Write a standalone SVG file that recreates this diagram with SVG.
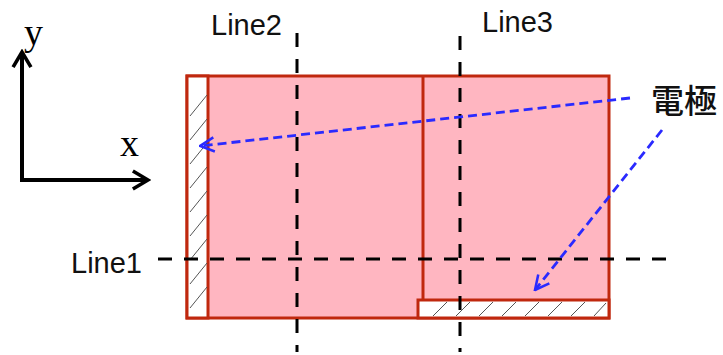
<svg xmlns="http://www.w3.org/2000/svg" width="723" height="355" viewBox="0 0 723 355">
<style>
.lbl{font-family:"Liberation Sans",Arial,sans-serif;font-size:29px;fill:#111}
.ax{font-family:"Liberation Serif","Times New Roman",serif;font-size:38px;fill:#000}
.jp{font-family:"Noto Sans CJK JP",sans-serif;font-size:33px;font-weight:500;fill:#111}
.dash{stroke:#000;stroke-width:3;stroke-dasharray:14,12;fill:none}
.red{stroke:#c0280e;stroke-width:3}
.blue{stroke:#2a2aff;stroke-width:2.8;stroke-dasharray:9,5;fill:none}
.hatch{stroke:#555;stroke-width:1}
</style>
<defs>
<marker id="ah" viewBox="0 0 12 12" refX="11" refY="6" markerWidth="17" markerHeight="17" markerUnits="userSpaceOnUse" orient="auto">
<path d="M1,1 L11,6 L1,11" fill="none" stroke="#2a2aff" stroke-width="1.8"/>
</marker>
<marker id="bk" viewBox="0 0 16 16" refX="14" refY="8" markerWidth="22" markerHeight="22" markerUnits="userSpaceOnUse" orient="auto">
<path d="M3,1.5 L14,8 L3,14.5" fill="none" stroke="#000" stroke-width="2.6"/>
</marker>
</defs>
<g id="axes">
<line x1="22" y1="180" x2="22" y2="52" stroke="#000" stroke-width="4" marker-end="url(#bk)"/>
<line x1="20" y1="180" x2="148" y2="180" stroke="#000" stroke-width="4" marker-end="url(#bk)"/>
<text class="ax" x="24" y="45">y</text>
<text class="ax" x="120" y="156">x</text>
</g>
<g id="body">
<rect x="187" y="76" width="422" height="242" fill="#ffb6c1" class="red"/>
<line x1="423" y1="76" x2="423" y2="300" class="red" stroke-width="2"/>
</g>
<g id="electrode-left">
<rect x="187" y="76" width="21" height="242" fill="#fff" class="red"/>
<g class="hatch">
<line x1="190" y1="116" x2="207" y2="95"/>
<line x1="190" y1="140" x2="207" y2="119"/>
<line x1="190" y1="164" x2="207" y2="143"/>
<line x1="190" y1="188" x2="207" y2="167"/>
<line x1="190" y1="212" x2="207" y2="191"/>
<line x1="190" y1="236" x2="207" y2="215"/>
<line x1="190" y1="260" x2="207" y2="239"/>
<line x1="190" y1="284" x2="207" y2="263"/>
<line x1="190" y1="308" x2="207" y2="287"/>
</g>
</g>
<g id="electrode-bottom">
<rect x="418" y="300" width="191" height="18" fill="#fff" class="red"/>
<g class="hatch">
<line x1="433" y1="316" x2="447" y2="302"/>
<line x1="456" y1="316" x2="470" y2="302"/>
<line x1="479" y1="316" x2="493" y2="302"/>
<line x1="502" y1="316" x2="516" y2="302"/>
<line x1="525" y1="316" x2="539" y2="302"/>
<line x1="548" y1="316" x2="562" y2="302"/>
<line x1="571" y1="316" x2="585" y2="302"/>
<line x1="594" y1="316" x2="606" y2="303"/>
</g>
</g>
<g id="connectors">
<line x1="297" y1="33" x2="297" y2="352" class="dash"/>
<line x1="460" y1="36" x2="460" y2="352" class="dash"/>
<line x1="158" y1="259" x2="668" y2="259" class="dash"/>
<line x1="630" y1="98" x2="200" y2="146" class="blue" marker-end="url(#ah)"/>
<line x1="662" y1="130" x2="535" y2="290" class="blue" marker-end="url(#ah)"/>
</g>
<g id="labels">
<text class="lbl" x="211" y="35">Line2</text>
<text class="lbl" x="482" y="32">Line3</text>
<text class="lbl" x="71" y="273">Line1</text>
<text class="jp" x="651" y="113">電極</text>
</g>
</svg>
